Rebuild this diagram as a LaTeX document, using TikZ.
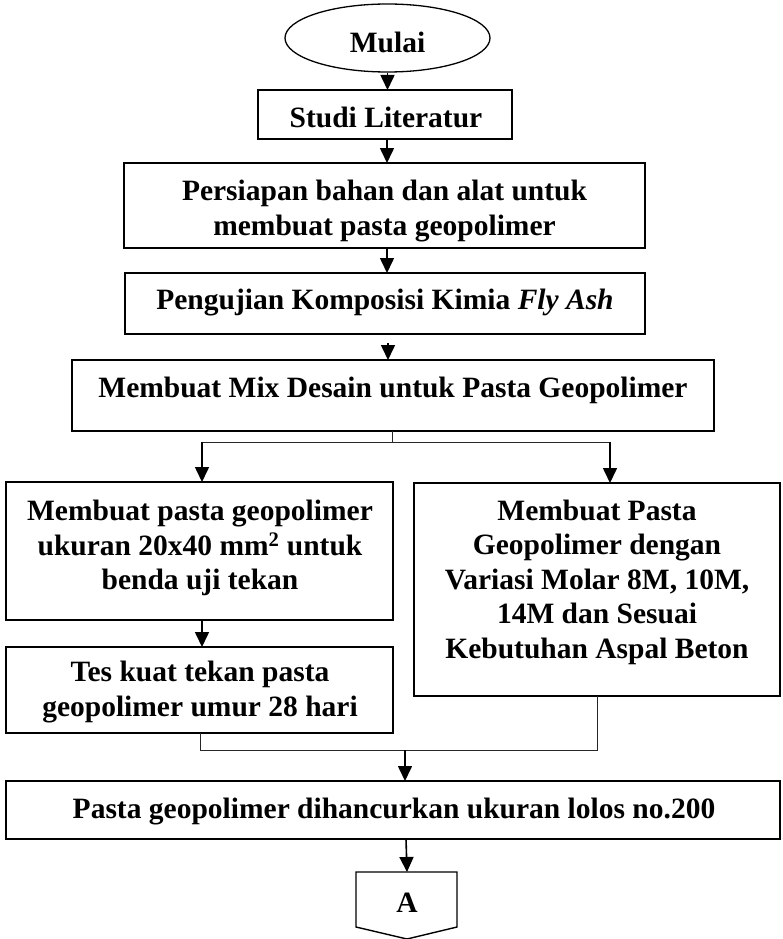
\documentclass[tikz,border=0pt]{standalone}
\usepackage{fontspec}
\setmainfont{Liberation Serif}
\usetikzlibrary{arrows.meta,calc,fit,shapes.geometric}
\begin{document}
\begin{tikzpicture}[x=1pt,y=-1pt,
  box/.style={draw, line width=1.6pt, inner sep=0pt, outer sep=0pt},
  txt/.style={font=\bfseries\fontsize{29.5}{34.5}\selectfont, align=center, inner sep=0pt},
  arr/.style={line width=1.6pt, -{Triangle[length=15pt,width=14pt]}},
  ln/.style={line width=1pt, draw=black!85}]
\useasboundingbox (0,0) rectangle (782,939);
% start
\node[draw, ellipse, line width=1.3pt, minimum width=205pt, minimum height=68pt, inner sep=0pt] (mulai) at (387.5,38) {};
\node[txt] (tmulai) at (387.5,42) {Mulai};
% boxes
\node[box, fit={(258,90) (512,139)}] (studi) {};
\node[txt] (tstudi) at (386,117) {Studi Literatur};
\node[box, fit={(124,163) (645,248)}] (siap) {};
\node[txt] (tsiap) at (384.5,211) {Persiapan bahan dan alat untuk\\membuat pasta geopolimer};
\node[box, fit={(125,273) (645,334)}] (uji) {};
\node[txt] (tuji) at (385,303) {Pengujian Komposisi Kimia \textit{Fly Ash}};
\node[box, fit={(72,360) (714,431)}] (mix) {};
\node[txt] (tmix) at (393,390) {Membuat Mix Desain untuk Pasta Geopolimer};
\node[box, fit={(6,482) (393,620)}] (kiri) {};
\node[txt] (tkiri) at (200,548) {Membuat pasta geopolimer\\ukuran 20x40 mm\textsuperscript{2} untuk\\benda uji tekan};
\node[box, fit={(6,647) (393,733)}] (tes) {};
\node[txt] (ttes) at (200,692) {Tes kuat tekan pasta\\geopolimer umur 28 hari};
\node[box, fit={(414,483) (780,696)}] (kanan) {};
\node[txt] (tkanan) at (597,582) {Membuat Pasta\\Geopolimer dengan\\Variasi Molar 8M, 10M,\\14M dan Sesuai\\Kebutuhan Aspal Beton};
\node[box, fit={(6,781) (780,839)}] (pasta) {};
\node[txt] (tpasta) at (394,812) {Pasta geopolimer dihancurkan ukuran lolos no.200};
% off-page connector
\draw[line width=1.4pt] (356,872) -- (457,872) -- (457,927) -- (407,939) -- (356,927) -- cycle;
\coordinate (atop) at (407,872);
\node[txt] (ta) at (407,903) {A};
% connectors
\draw[arr] (mulai.south) -- (mulai.south |- studi.north);
\draw[arr] (387,139) -- (387,163);
\draw[arr] (387,248) -- (387,273);
\coordinate (gap) at (388,343);
\draw[arr] (gap) -- (gap |- mix.north);
\coordinate (split) at (392,442);
\draw[ln] (392,431) -- (split);
\draw[ln] (202,442) -- (610,442);
\draw[arr] (202,442) -- (202,482);
\draw[arr] (610,442) -- (610,483);
\draw[arr] (202,620) -- (202,647);
\coordinate (join) at (405,750);
\draw[ln] (200,733) -- (200,750) -- (597,750) -- (597,696);
\draw[arr] (join) -- (join |- pasta.north);
\draw[arr] (406,839) -- (atop);
\end{tikzpicture}
\end{document}
